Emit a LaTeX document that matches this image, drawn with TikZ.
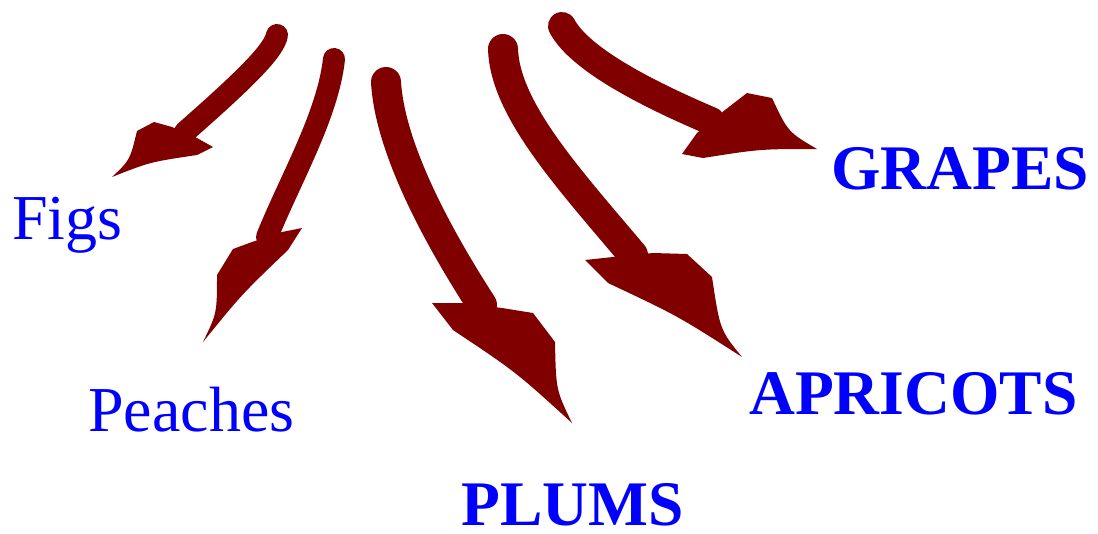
\documentclass[tikz,border=0pt]{standalone}
\usepackage{fontspec}
\setmainfont{Liberation Serif}
\usepackage{xcolor}
\usepackage{tikz}
\usetikzlibrary{positioning}
\definecolor{FruitRed}{HTML}{800000}
\definecolor{FruitBlue}{HTML}{0000FF}

\begin{document}
\begin{tikzpicture}[x=1pt, y=-1pt, sh/.style={draw=FruitRed,line cap=round}, hd/.style={fill=FruitRed}, lb/.style={text=FruitBlue,anchor=base west,inner sep=0pt,font=\fontsize{64}{64}\selectfont}, lbb/.style={lb,font=\fontsize{63.5}{64}\selectfont\bfseries}]
\useasboundingbox (0,0) rectangle (1098,533);
% labels
\node[lb] (figs) at (12,239) {Figs};
\node[lb] (peaches) at (88,431) {Peaches};
\node[lbb] (plums) at (461,525) {PLUMS};
\node[lbb] (apricots) at (749,414) {APRICOTS};
\node[lbb] (grapes) at (831,189) {GRAPES};
% shaft ends
\coordinate (f0) at (277,35); \coordinate (f1) at (185,132);
\coordinate (p0) at (334,59); \coordinate (p1) at (267,237);
\coordinate (u0) at (386,82); \coordinate (u1) at (482,305);
\coordinate (a0) at (503,49); \coordinate (a1) at (633,255);
\coordinate (g0) at (562,26); \coordinate (g1) at (711,121);
% shafts
\draw[sh,line width=22pt] (f0) .. controls (274,50) and (250,75) .. (f1);
\draw[sh,line width=22pt] (p0) .. controls (328,115) and (290,180) .. (p1);
\draw[sh,line width=30pt] (u0) .. controls (390,150) and (440,240) .. (u1);
\draw[sh,line width=30pt] (a0) .. controls (505,110) and (570,180) .. (a1);
\draw[sh,line width=28pt] (g0) .. controls (580,60) and (650,95) .. (g1);
% heads
\fill[hd] (172,127) -- (154,122) -- (137,131) .. controls (130,160) .. (112,177) .. controls (150,162) .. (197,155) -- (213,147) -- (197,138) -- cycle;
\fill[hd] (252,242) -- (233,249) -- (217,275) .. controls (217,313) .. (203,342) .. controls (242,294) .. (288,250) -- (302,228) -- (282,232) -- cycle;
\fill[hd] (462,303) -- (432,303) -- (453,330) .. controls (516,372) .. (572,423) .. controls (556,390) .. (555,342) -- (533,313) -- (502,308) -- cycle;
\fill[hd] (613,257) -- (585,260) -- (608,283) .. controls (678,316) .. (742,357) .. controls (720,330) .. (712,277) -- (687,254) -- (653,253) -- cycle;
\fill[hd] (725,110) -- (747,93) -- (772,98) .. controls (788,132) .. (817,149) .. controls (760,149) .. (703,158) -- (682,154) -- (697,133) -- cycle;
\end{tikzpicture}
\end{document}
